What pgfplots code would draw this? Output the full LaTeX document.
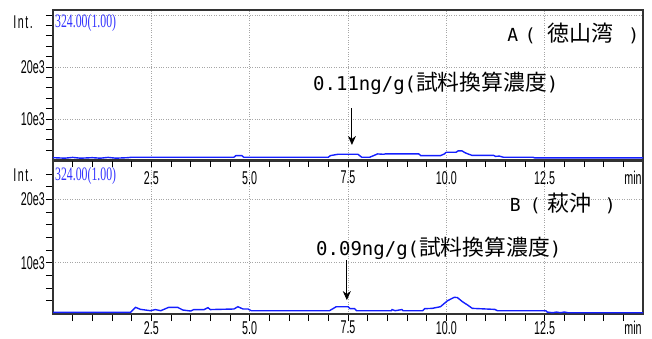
\documentclass[border=0pt]{standalone}
\usepackage{pgfplots}
\pgfplotsset{compat=1.18}
\usetikzlibrary{arrows.meta}
\usepackage{fontspec}
\setmainfont{Liberation Sans}
\newfontfamily\cjk{Noto Sans CJK JP}
\newfontfamily\mono{DejaVu Sans Mono}
\newfontfamily\cond{Liberation Sans}[FakeStretch=0.58]
\newfontfamily\condserif{Liberation Serif}[FakeStretch=0.62]
\definecolor{trace}{rgb}{0.08,0.12,1}
\definecolor{lbl}{rgb}{0.2,0.2,1}
\newcommand\tf{\cond\fontsize{18.5}{18.5}\selectfont}
\newcommand\mf{\mono\fontsize{18}{18}\selectfont}
\newcommand\cf{\cjk\fontsize{22}{22}\selectfont}
\pgfplotsset{chrom/.style={
  scale only axis, width=590pt,
  xmin=0, xmax=15,
  xtick={2.5,5,7.5,10,12.5},
  xticklabels={2.5,5.0,7.5,10.0,12.5},
  minor xtick={0.5,1,...,14.5},
  xtick pos=bottom, ytick pos=left,
  tick align=outside,
  major tick length=7pt, minor tick length=7pt,
  every tick/.style={black, line width=0.8pt},
  grid=major,
  major grid style={dotted, gray!70, line width=0.6pt},
  axis line style={black!80, line width=1.3pt},
  ticklabel style={font=\tf, inner sep=1pt},
  clip=false,
}}
\begin{document}
\begin{tikzpicture}[x=1pt,y=1pt]
\useasboundingbox (0,0) rectangle (652,338);
% bottom panel (B)
\begin{axis}[chrom, at={(53pt,24pt)}, anchor=south west, height=153pt,
  ymin=1.9, ymax=26.07,
  ytick={10,20}, yticklabels={10e3,20e3},
  minor ytick={4,6,...,24},
  xticklabel style={yshift=0.5pt, inner sep=0.5pt}]
\addplot[trace, line width=1.4pt] coordinates {
(0,2.16)(1.97,2.16)(2.1,2.95)(2.22,2.64)(2.48,2.42)(2.6,2.6)(2.74,2.42)(2.94,2.95)(3.17,2.95)(3.3,2.53)(3.5,2.37)(3.58,2.6)(3.84,2.6)(3.94,2.9)(4.0,2.6)(4.6,2.69)(4.7,3.05)(4.83,2.69)(4.96,2.69)(5.04,2.42)(7.03,2.42)(7.2,3.05)(7.5,3.05)(7.55,2.74)(7.67,2.74)(7.72,2.42)(8.6,2.42)(8.62,2.6)(8.7,2.42)(8.87,2.6)(8.9,2.42)(9.4,2.42)(9.45,2.74)(9.64,2.79)(9.85,3.05)(10.03,4.0)(10.2,4.53)(10.28,4.5)(10.41,3.84)(10.54,3.32)(10.66,2.79)(11.23,2.63)(11.3,2.42)(12.53,2.42)(12.56,2.21)(12.7,2.1)(12.8,2.21)(12.9,2.1)(13.0,2.21)(13.1,2.1)(15,2.1)
};
\draw[-{Stealth[length=9pt,width=8pt]}, line width=0.9pt] (axis cs:7.47,10.4) -- (axis cs:7.47,4.1);
\node[anchor=west, inner sep=0pt] at (rel axis cs:0.7746,0.7255) {\makebox[10pt][c]{\mf B}\makebox[30pt][c]{\mf (}\kern-3pt{\cf 萩沖}\makebox[38pt][c]{\mf )}};
\node[anchor=west, inner sep=0pt] at (rel axis cs:0.4458,0.431) {{\mono\fontsize{19}{19}\selectfont 0.09ng/g(}{\cjk\fontsize{21.8}{22}\selectfont 試料換算濃度}{\mono\fontsize{19}{19}\selectfont )}};
\node[anchor=center, inner sep=0pt] at (rel axis cs:-0.0508,0.908) {\tf I\kern1.5pt n\kern1.5pt t\kern1.5pt .};
\node[anchor=west, inner sep=0pt, text=lbl] at (rel axis cs:0.0034,0.902) {\condserif\fontsize{19}{19}\selectfont 324.00(1.00)};
\node[anchor=east, inner sep=0pt] at (rel axis cs:0.998,-0.088) {\tf min};
\end{axis}
% top panel (A)
\begin{axis}[chrom, at={(53pt,178pt)}, anchor=south west, height=150pt,
  ymin=2.1, ymax=30.96,
  ytick={10,20,30}, yticklabels={10e3,20e3,{}},
  minor ytick={4,6,...,28},
  xticklabel style={yshift=-3pt}]
\addplot[trace, line width=1.4pt] coordinates {
(0,2.55)(0.3,2.45)(0.5,2.6)(0.7,2.45)(1.0,2.55)(1.2,2.45)(1.4,2.6)(1.6,2.45)(1.9,2.55)(2.0,2.63)(4.6,2.63)(4.65,2.95)(4.8,2.95)(4.85,2.63)(7.0,2.63)(7.05,2.94)(7.25,3.21)(7.75,3.21)(7.85,2.63)(8.05,2.63)(8.15,2.94)(8.25,3.27)(8.4,3.2)(8.45,3.27)(9.3,3.27)(9.35,2.94)(9.85,2.94)(9.95,3.27)(10.0,3.6)(10.25,3.6)(10.3,3.85)(10.4,3.85)(10.47,3.52)(10.55,3.27)(10.65,3.0)(11.2,3.0)(11.25,2.8)(11.35,2.85)(11.45,2.63)(12.2,2.63)(12.25,2.5)(15,2.5)
};
\draw[-{Stealth[length=9pt,width=8pt]}, line width=0.9pt] (axis cs:7.6,12.1) -- (axis cs:7.6,5.0);
\node[anchor=west, inner sep=0pt] at (rel axis cs:0.7695,0.847) {\makebox[11pt][c]{\mf A}\makebox[24pt][c]{\mf (}\kern5pt{\cf 徳山湾}\makebox[41pt][c]{\mf )}};
\node[anchor=west, inner sep=0pt] at (rel axis cs:0.4407,0.513) {{\mono\fontsize{19}{19}\selectfont 0.11ng/g(}{\cjk\fontsize{21.8}{22}\selectfont 試料換算濃度}{\mono\fontsize{19}{19}\selectfont )}};
\node[anchor=center, inner sep=0pt] at (rel axis cs:-0.0508,0.92) {\tf I\kern1.5pt n\kern1.5pt t\kern1.5pt .};
\node[anchor=west, inner sep=0pt, text=lbl] at (rel axis cs:0.0034,0.913) {\condserif\fontsize{19}{19}\selectfont 324.00(1.00)};
\node[anchor=east, inner sep=0pt] at (rel axis cs:0.998,-0.12) {\tf min};
\end{axis}
\end{tikzpicture}
\end{document}
